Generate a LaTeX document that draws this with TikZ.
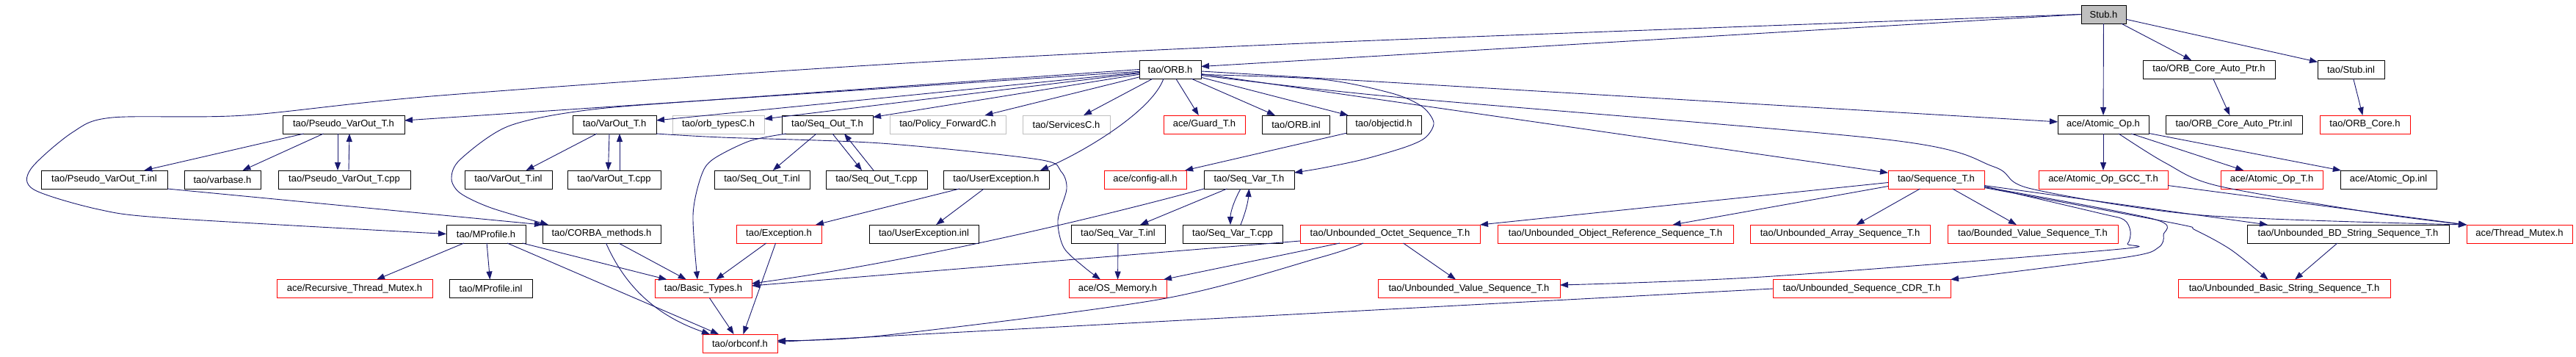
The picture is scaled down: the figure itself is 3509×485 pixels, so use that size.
\documentclass[tikz,border=0pt]{standalone}
\usepackage{fontspec}
\setmainfont{Liberation Sans}
\usetikzlibrary{arrows.meta,calc}
\definecolor{edgeblue}{HTML}{191970}
\definecolor{boxred}{HTML}{FF0000}
\definecolor{boxgray}{HTML}{BFBFBF}
\tikzset{
  box/.style={draw=black, line width=1pt, minimum height=25pt, inner sep=0pt, outer sep=0pt, font=\fontsize{13}{15}\selectfont, text=black},
  redbox/.style={box, draw=boxred},
  graybox/.style={box, draw=boxgray},
  edge/.style={draw=edgeblue, line width=0.9pt, -{Triangle[length=11pt,width=8pt]}},
}
\begin{document}
\begin{tikzpicture}[x=1pt,y=-1pt]
\fill[white] (0,0) rectangle (3509,485);
\useasboundingbox (0,0) rectangle (3509,485);
% row 0
\node[box, fill=boxgray, minimum width=61pt] (stub) at (2865.5,19.5) {Stub.h};
% row 1
\node[box, minimum width=84pt] (orb) at (1594,94.5) {tao/ORB.h};
\node[box, minimum width=180pt] (ocap) at (3009,94.5) {tao/ORB\_Core\_Auto\_Ptr.h};
\node[box, minimum width=91pt] (stubinl) at (3202.5,94.5) {tao/Stub.inl};
% row 2
\node[box, minimum width=166pt] (pvh) at (468,169.5) {tao/Pseudo\_VarOut\_T.h};
\node[box, minimum width=114pt] (voh) at (837,169.5) {tao/VarOut\_T.h};
\node[graybox, minimum width=125pt] (otc) at (978.5,169.5) {tao/orb\_typesC.h};
\node[box, minimum width=124pt] (soh) at (1127,169.5) {tao/Seq\_Out\_T.h};
\node[graybox, minimum width=158pt] (pfc) at (1291,169.5) {tao/Policy\_ForwardC.h};
\node[graybox, minimum width=119pt] (svc) at (1452.5,169.5) {tao/ServicesC.h};
\node[redbox, minimum width=111pt] (guard) at (1640.5,169.5) {ace/Guard\_T.h};
\node[box, minimum width=92pt] (orbinl) at (1765.5,169.5) {tao/ORB.inl};
\node[box, minimum width=102pt] (objid) at (1885,169.5) {tao/objectid.h};
\node[box, minimum width=124pt] (atom) at (2865,169.5) {ace/Atomic\_Op.h};
\node[box, minimum width=186pt] (ocapinl) at (3043,169.5) {tao/ORB\_Core\_Auto\_Ptr.inl};
\node[redbox, minimum width=123pt] (orbcore) at (3221.5,169.5) {tao/ORB\_Core.h};
% row 3
\node[box, minimum width=172pt] (pvinl) at (142,244.5) {tao/Pseudo\_VarOut\_T.inl};
\node[box, minimum width=104pt] (varbase) at (303,244.5) {tao/varbase.h};
\node[box, minimum width=180pt] (pvcpp) at (469,244.5) {tao/Pseudo\_VarOut\_T.cpp};
\node[box, minimum width=119pt] (voinl) at (692.5,244.5) {tao/VarOut\_T.inl};
\node[box, minimum width=127pt] (vocpp) at (836.5,244.5) {tao/VarOut\_T.cpp};
\node[box, minimum width=130pt] (soinl) at (1038,244.5) {tao/Seq\_Out\_T.inl};
\node[box, minimum width=138pt] (socpp) at (1194,244.5) {tao/Seq\_Out\_T.cpp};
\node[box, minimum width=144pt] (uexh) at (1357,244.5) {tao/UserException.h};
\node[redbox, minimum width=112pt] (cfg) at (1560,244.5) {ace/config-all.h};
\node[box, minimum width=123pt] (svh) at (1701.5,244.5) {tao/Seq\_Var\_T.h};
\node[redbox, minimum width=131pt] (seqt) at (2637.5,244.5) {tao/Sequence\_T.h};
\node[redbox, minimum width=176pt] (gcc) at (2865,244.5) {ace/Atomic\_Op\_GCC\_T.h};
\node[redbox, minimum width=139pt] (aopt) at (3094.5,244.5) {ace/Atomic\_Op\_T.h};
\node[box, minimum width=131pt] (aoinl) at (3253.5,244.5) {ace/Atomic\_Op.inl};
% row 4
\node[box, minimum width=108pt] (mprof) at (662,318.5) {tao/MProfile.h};
\node[box, minimum width=161pt] (corba) at (819.5,318.5) {tao/CORBA\_methods.h};
\node[redbox, minimum width=116pt] (exc) at (1061,318.5) {tao/Exception.h};
\node[box, minimum width=149pt] (uexinl) at (1258.5,318.5) {tao/UserException.inl};
\node[box, minimum width=128pt] (svinl) at (1523,318.5) {tao/Seq\_Var\_T.inl};
\node[box, minimum width=136pt] (svcpp) at (1679,318.5) {tao/Seq\_Var\_T.cpp};
\node[redbox, minimum width=245pt] (uoct) at (1893.5,318.5) {tao/Unbounded\_Octet\_Sequence\_T.h};
\node[redbox, minimum width=321pt] (uobj) at (2200.5,318.5) {tao/Unbounded\_Object\_Reference\_Sequence\_T.h};
\node[redbox, minimum width=245pt] (uarr) at (2506.5,318.5) {tao/Unbounded\_Array\_Sequence\_T.h};
\node[redbox, minimum width=232pt] (bval) at (2769,318.5) {tao/Bounded\_Value\_Sequence\_T.h};
\node[box, minimum width=275pt] (ubd) at (3198.5,318.5) {tao/Unbounded\_BD\_String\_Sequence\_T.h};
\node[redbox, minimum width=144pt] (tmutex) at (3432,318.5) {ace/Thread\_Mutex.h};
% row 5
\node[redbox, minimum width=212pt] (rtm) at (483,393) {ace/Recursive\_Thread\_Mutex.h};
\node[box, minimum width=113pt] (mpinl) at (668.5,393) {tao/MProfile.inl};
\node[redbox, minimum width=132pt] (basic) at (958,393) {tao/Basic\_Types.h};
\node[redbox, minimum width=133pt] (osmem) at (1522.5,393) {ace/OS\_Memory.h};
\node[redbox, minimum width=248pt] (uval) at (2001,393) {tao/Unbounded\_Value\_Sequence\_T.h};
\node[redbox, minimum width=242pt] (ucdr) at (2536,393) {tao/Unbounded\_Sequence\_CDR\_T.h};
\node[redbox, minimum width=289pt] (ubasic) at (3111.5,393) {tao/Unbounded\_Basic\_String\_Sequence\_T.h};
% row 6
\node[redbox, minimum width=102pt] (orbconf) at (1008,467.5) {tao/orbconf.h};

% ---- edges from Stub.h
\draw[edge] (stub.west) -- ($(orb.east)+(0,-4)$);
\draw[edge] plot[smooth, tension=0.5] coordinates {(stub.west) (1800,58) (1200,88) (600,130) (333,157) (153,160) (99,180) (42,230) (46,258) (134,285) (230,297) (mprof.west)};
\draw[edge] (stub) -- (atom);
\draw[edge] (stub) -- (ocap);
\draw[edge] (stub) -- (stubinl);
\draw[edge] (ocap) -- (ocapinl);
\draw[edge] (stubinl) -- (orbcore);
% ---- edges from ORB.h
\draw[edge] (orb) -- (pvh);
\draw[edge] (orb) -- (voh);
\draw[edge] (orb) -- (otc);
\draw[edge] (orb) -- (soh);
\draw[edge] (orb) -- (pfc);
\draw[edge] (orb) -- (svc);
\draw[edge] (orb) -- (guard);
\draw[edge] (orb) -- (orbinl);
\draw[edge] (orb) -- (objid);
\draw[edge] (orb) -- (seqt);
\draw[edge] (orb) -- (atom);
\draw[edge] plot[smooth, tension=0.5] coordinates {(orb.west) (983,135) (799,150) (692,172) (627,217) (615,243) (627,263) (669,283) ($(corba.north west)+(8,0)$)};
\draw[edge] ($(orb.south)+(-9,0)$) .. controls (1570,150) and (1480,205) .. ($(uexh.north east)+(-12,0)$);
\draw[edge] plot[smooth, tension=0.5] coordinates {($(orb.east)+(0,7)$) (1800,108) (1896,127) (1937,145) (1953,167) (1942,187) (1915,200) (1857,217) (1800,229) ($(svh.north east)+(0,3)$)};
\draw[edge] plot[smooth, tension=0.5] coordinates {($(orb.east)+(0,8)$) (1900,132) (2570,190) (2716,227) (2767,257) (3000,293) (tmutex.north west)};
\draw[edge] (objid) -- (cfg);
% ---- Pseudo_VarOut_T
\draw[edge] (pvh) -- (pvinl);
\draw[edge] (pvh) -- (varbase);
\draw[edge] ([xshift=-8pt]pvh.south) -- ([xshift=-9pt]pvcpp.north);
\draw[edge] ([xshift=6pt]pvcpp.north) -- ([xshift=8pt]pvh.south);
\draw[edge] (pvinl.south east) -- (corba.north west);
% ---- VarOut_T
\draw[edge] (voh) -- (voinl);
\draw[edge] ([xshift=-7pt]voh.south) -- ([xshift=-8pt]vocpp.north);
\draw[edge] ([xshift=7.5pt]vocpp.north) -- ([xshift=7pt]voh.south);
\draw[edge] plot[smooth, tension=0.5] coordinates {(voh.south east) (983,187) (1200,195) (1414,217) (1445,233) (1453,257) (1441,300) (1449,337) (1476,363) ($(osmem.north west)+(43,0)$)};
% ---- Seq_Out_T
\draw[edge] (soh) -- (soinl);
\draw[edge] ([xshift=7pt]soh.south) -- ([xshift=-20pt]socpp.north);
\draw[edge] ([xshift=-4pt]socpp.north) -- ([xshift=23pt]soh.south);
\draw[edge] plot[smooth, tension=0.5] coordinates {($(soh.south west)+(6,0)$) (1021,192) (971,217) (955,240) (944,293) ($(basic.north)+(-8,0)$)};
% ---- UserException
\draw[edge] (uexh) -- (exc);
\draw[edge] (uexh) -- (uexinl);
% ---- Seq_Var_T
\draw[edge] (svh) -- (svinl);
\draw[edge] ([xshift=-11.5pt]svh.south) .. controls (1680,275) and (1676,290) .. ([xshift=-3pt]svcpp.north);
\draw[edge] ([xshift=11pt]svcpp.north) .. controls (1697,288) and (1700,275) .. ([xshift=0pt]svh.south);
\draw[edge] (svh.south west) .. controls (1500,295) and (1250,355) .. ($(basic.east)+(0,-7)$);
\draw[edge] (svinl) -- (osmem);
% ---- Unbounded_Octet
\draw[edge] ($(uoct.south west)+(0,-3)$) -- ($(basic.east)+(0,-4)$);
\draw[edge] ($(uoct.south west)+(54,0)$) -- ($(osmem.north east)+(-4,0)$);
\draw[edge] plot[smooth, tension=0.5] coordinates {($(uoct.south west)+(86,0)$) (1800,350) (1583,407) (1200,457) ($(orbconf.east)+(0,-4)$)};
\draw[edge] (uoct) -- (uval);
% ---- Sequence_T
\draw[edge] ($(seqt.west)+(0,4)$) -- (uoct.north east);
\draw[edge] ($(seqt.west)+(0,9)$) -- ($(uobj.north)+(78,0)$);
\draw[edge] (seqt) -- (uarr);
\draw[edge] (seqt) -- (bval);
\draw[edge] plot[smooth, tension=0.5] coordinates {($(seqt.east)+(0,9)$) (2859,290) (2893,299) (2902,315) (2898,332) (2878,340) (2400,377) ($(uval.east)+(0,-5)$)};
\draw[edge] plot[smooth, tension=0.5] coordinates {($(seqt.east)+(0,10)$) (2933,298) (2947,320) (2940,337) (2897,350) (ucdr.north east)};
\draw[edge] ($(seqt.east)+(0,8)$) -- ($(ubd.north west)+(28,0)$);
\draw[edge] plot[smooth, tension=0.5] coordinates {($(seqt.east)+(0,11)$) (2962,304) (2990,313) (3039,340) ($(ubasic.north)+(-22,0)$)};
\draw[edge] (ucdr.west) -- ($(orbconf.east)+(0,-2)$);
% ---- Atomic_Op
\draw[edge] (atom) -- (gcc);
\draw[edge] (atom) -- (aopt);
\draw[edge] (atom) -- (aoinl);
\draw[edge] plot[smooth, tension=0.5] coordinates {($(atom.south)+(21,0)$) (2950,222) (3021,253) (3235,290) (tmutex.north west)};
\draw[edge] ($(gcc.east)+(0,8)$) -- (tmutex.north west);
\draw[edge] (ubd) -- (ubasic);
% ---- MProfile, CORBA_methods, Exception, Basic_Types
\draw[edge] (mprof) -- (rtm);
\draw[edge] (mprof) -- (mpinl);
\draw[edge] (mprof) -- (basic);
\draw[edge] (mprof) -- (orbconf);
\draw[edge] (corba) -- (basic);
\draw[edge] ($(corba.south)+(6,0)$) .. controls (845,375) and (880,425) .. ($(orbconf.north west)+(10,0)$);
\draw[edge] (exc) -- (basic);
\draw[edge] (exc) -- (orbconf);
\draw[edge] (basic) -- (orbconf);
\end{tikzpicture}
\end{document}
